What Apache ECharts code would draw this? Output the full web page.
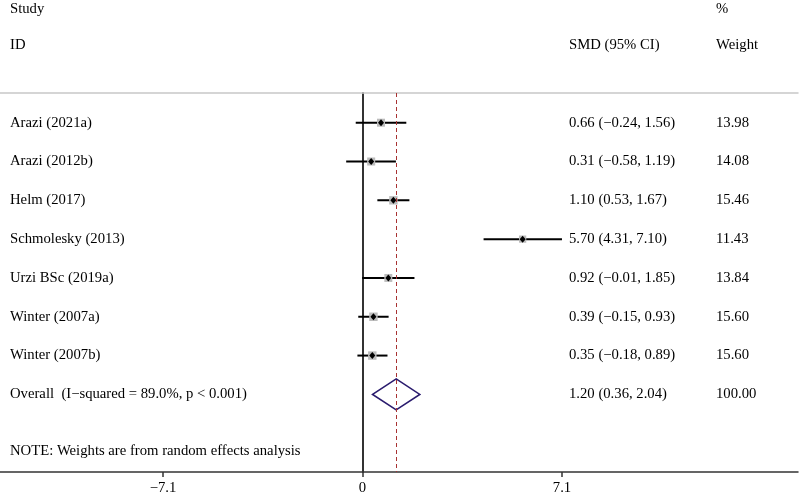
<!DOCTYPE html>
<html><head><meta charset="utf-8">
<script src="https://cdn.jsdelivr.net/npm/echarts@6/dist/echarts.min.js"></script>
<style>html,body{margin:0;padding:0;background:#fff}#c{width:800px;height:496px}</style>
</head><body><div id="c"></div>
<script>
// ---- data ----
const studies = ['Arazi (2021a)', 'Arazi (2012b)', 'Helm (2017)', 'Schmolesky (2013)', 'Urzi BSc (2019a)', 'Winter (2007a)', 'Winter (2007b)'];
const smd = [0.66, 0.31, 1.10, 5.70, 0.92, 0.39, 0.35];
const ciLow = [-0.24, -0.58, 0.53, 4.31, -0.01, -0.15, -0.18];
const ciHigh = [1.56, 1.19, 1.67, 7.10, 1.85, 0.93, 0.89];
const weights = [13.98, 14.08, 15.46, 11.43, 13.84, 15.60, 15.60];
const overallLabel = 'Overall  (I\u2212squared = 89.0%, p < 0.001)';
const overallSmd = 1.20, overallLow = 0.36, overallHigh = 2.04, overallWeight = 100.00;
const xTicks = [-7.1, 0, 7.1];
const headers1 = ['Study', '', '%'];
const headers2 = ['ID', 'SMD (95% CI)', 'Weight'];
const noteText = 'NOTE: Weights are from random effects analysis';

// ---- layout ----
const colX = [10, 569, 716];
const FONT = '14.7px "Liberation Serif", "Times New Roman", serif';
const fmt = v => (v < 0 ? '\u2212' : '') + Math.abs(v).toFixed(2);
const fmtTick = v => (v < 0 ? '\u2212' : '') + Math.abs(v);

const rows = studies.map((s, i) => i + 1);
const overallRow = studies.length + 1;

// text cells: [row, col, text]
const textCells = [];
textCells.push([-1.93, 0, headers1[0]]);
textCells.push([-1.93, 2, headers1[2]]);
textCells.push([-1.0, 0, headers2[0]]);
textCells.push([-1.0, 1, headers2[1]]);
textCells.push([-1.0, 2, headers2[2]]);
studies.forEach((s, i) => {
  textCells.push([rows[i], 0, s]);
  textCells.push([rows[i], 1, fmt(smd[i]) + ' (' + fmt(ciLow[i]) + ', ' + fmt(ciHigh[i]) + ')']);
  textCells.push([rows[i], 2, weights[i].toFixed(2)]);
});
textCells.push([overallRow, 0, overallLabel]);
textCells.push([overallRow, 1, fmt(overallSmd) + ' (' + fmt(overallLow) + ', ' + fmt(overallHigh) + ')']);
textCells.push([overallRow, 2, overallWeight.toFixed(2)]);
textCells.push([9.47, 0, noteText]);

const chart = echarts.init(document.getElementById('c'), null, {renderer: 'canvas'});
chart.setOption({
  animation: false,
  backgroundColor: '#fff',
  grid: {left: 0, right: 2, top: 93, bottom: 24, containLabel: false, outerBoundsMode: 'none'},
  xAxis: [{
    type: 'value', min: -12.9, max: 15.5, position: 'bottom',
    axisLine: {onZero: false, lineStyle: {color: '#333', width: 1.5}},
    axisTick: {show: true, customValues: xTicks, length: 5, lineStyle: {color: '#333', width: 1.5}},
    axisLabel: {customValues: xTicks, formatter: fmtTick, color: '#000', fontSize: 14.7, fontFamily: '"Liberation Serif"', margin: 9},
    splitLine: {show: false}
  }, {
    type: 'value', min: -12.9, max: 15.5, position: 'top',
    axisLine: {onZero: false, lineStyle: {color: '#c8c8c8', width: 1.5}},
    axisTick: {show: false}, axisLabel: {show: false}, splitLine: {show: false}
  }],
  yAxis: {
    type: 'value', inverse: true, min: 0.235, max: 10,
    axisLine: {show: true, onZero: true, lineStyle: {color: '#333', width: 2}},
    axisTick: {show: false}, axisLabel: {show: false}, splitLine: {show: false}
  },
  series: [
    {
      type: 'custom', name: 'ci', z: 2, clip: false,
      data: studies.map((s, i) => [ciLow[i], ciHigh[i], rows[i]]),
      renderItem: (params, api) => {
        const a = api.coord([api.value(0), api.value(2)]);
        const b = api.coord([api.value(1), api.value(2)]);
        return {type: 'line', shape: {x1: a[0], y1: a[1], x2: b[0], y2: b[1]}, style: {stroke: '#000', lineWidth: 2}};
      },
      markLine: {
        silent: true, symbol: 'none', label: {show: false},
        lineStyle: {color: '#a83232', type: [4, 3], width: 1},
        data: [{xAxis: overallSmd}]
      }
    },
    {
      type: 'scatter', name: 'box', z: 3, symbol: 'rect',
      data: studies.map((s, i) => [smd[i], rows[i], weights[i]]),
      symbolSize: v => 8 * Math.sqrt(v[2] / 14),
      itemStyle: {color: '#bcbcbc', opacity: 1}
    },
    {
      type: 'scatter', name: 'point', z: 4, symbol: 'diamond', symbolSize: [6, 7],
      data: studies.map((s, i) => [smd[i], rows[i]]),
      itemStyle: {color: '#000', opacity: 1}
    },
    {
      type: 'custom', name: 'overall', z: 4, clip: false,
      data: [[overallLow, overallSmd, overallHigh, overallRow]],
      renderItem: (params, api) => {
        const r = api.value(3), h = 0.4;
        const pts = [
          api.coord([api.value(0), r]),
          api.coord([api.value(1), r - h]),
          api.coord([api.value(2), r]),
          api.coord([api.value(1), r + h])
        ];
        return {type: 'polygon', shape: {points: pts}, style: {fill: 'none', stroke: '#2a1b6e', lineWidth: 1.6}};
      }
    },
    {
      type: 'custom', name: 'text', z: 5, clip: false, silent: true,
      data: textCells.map(c => [0, c[0], c[1]]),
      renderItem: (params, api) => {
        const y = api.coord([0, api.value(1)])[1];
        const cell = textCells[params.dataIndex];
        return {type: 'text', style: {text: cell[2], x: colX[cell[1]], y: y, verticalAlign: 'middle', align: 'left', font: FONT, fill: '#000'}};
      }
    }
  ]
});
</script>
</body></html>
